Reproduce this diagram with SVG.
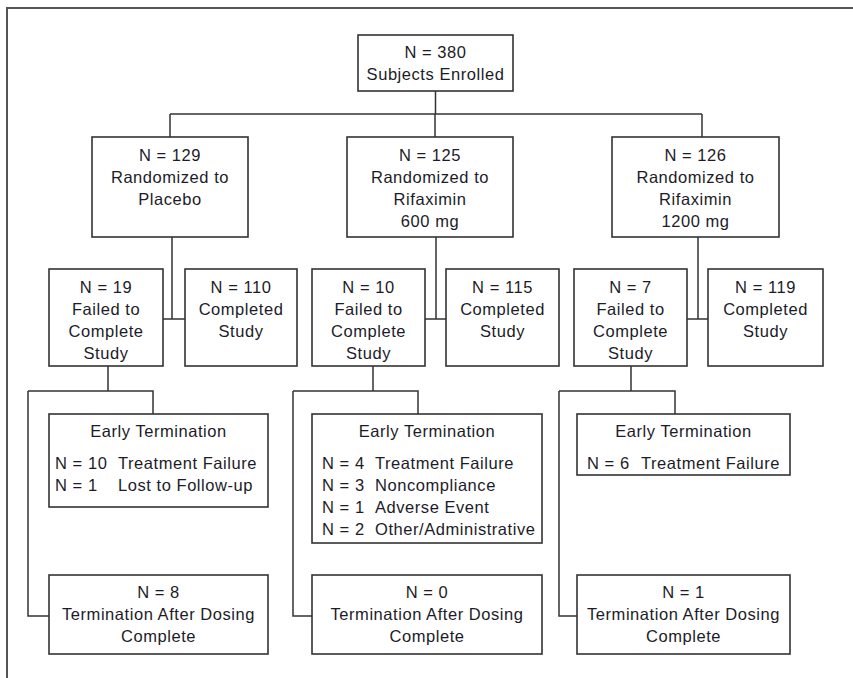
<svg xmlns="http://www.w3.org/2000/svg" width="853" height="678" viewBox="0 0 853 678">
<style>
.box{fill:#fff;stroke:#333;stroke-width:1.6}
.ln{fill:none;stroke:#333;stroke-width:1.5}
.fr{fill:none;stroke:#555;stroke-width:2}
text{font-family:"Liberation Sans",Arial,sans-serif;font-size:16.5px;letter-spacing:0.55px;fill:#1c1c28}
.c{text-anchor:middle}
</style>
<rect width="853" height="678" fill="#fff"/>
<g id="frame"><path class="fr" d="M7,678 V8 H853"/></g>
<g id="connectors">
<path class="ln" d="M435.5,91 V114 M170,114 H702 M170,114 V137 M435,114 V137 M702,114 V137"/>
<path class="ln" d="M172,237 V319 M163,319 H185"/>
<path class="ln" d="M436,237 V319 M425,319 H446"/>
<path class="ln" d="M698,237 V319 M687,319 H708"/>
<path class="ln" d="M108,366 V391 M28,391 H153 V414 M28,391 V616 H49"/>
<path class="ln" d="M373,366 V391 M293,391 H418 V414 M293,391 V616 H312"/>
<path class="ln" d="M631,366 V391 M559,391 H675 V414 M559,391 V616 H577"/>
</g>
<g id="enrolled"><rect class="box" x="358" y="35" width="155" height="56"/>
<text class="c" x="435.5" y="58">N = 380</text><text class="c" x="435.5" y="80">Subjects Enrolled</text></g>
<g id="placebo"><rect class="box" x="92" y="137" width="156" height="100"/>
<text class="c" x="170" y="161">N = 129</text><text class="c" x="170" y="183">Randomized to</text><text class="c" x="170" y="205">Placebo</text></g>
<g id="rif600"><rect class="box" x="347" y="137" width="166" height="100"/>
<text class="c" x="430" y="161">N = 125</text><text class="c" x="430" y="183">Randomized to</text><text class="c" x="430" y="205">Rifaximin</text><text class="c" x="430" y="227">600 mg</text></g>
<g id="rif1200"><rect class="box" x="612" y="137" width="167" height="100"/>
<text class="c" x="695.5" y="161">N = 126</text><text class="c" x="695.5" y="183">Randomized to</text><text class="c" x="695.5" y="205">Rifaximin</text><text class="c" x="695.5" y="227">1200 mg</text></g>
<g id="fail-placebo"><rect class="box" x="49" y="269" width="114" height="97"/>
<text class="c" x="106" y="293">N = 19</text><text class="c" x="106" y="315">Failed to</text><text class="c" x="106" y="337">Complete</text><text class="c" x="106" y="359">Study</text></g>
<g id="comp-placebo"><rect class="box" x="185" y="269" width="112" height="97"/>
<text class="c" x="241" y="293">N = 110</text><text class="c" x="241" y="315">Completed</text><text class="c" x="241" y="337">Study</text></g>
<g id="fail-600"><rect class="box" x="312" y="269" width="113" height="97"/>
<text class="c" x="368.5" y="293">N = 10</text><text class="c" x="368.5" y="315">Failed to</text><text class="c" x="368.5" y="337">Complete</text><text class="c" x="368.5" y="359">Study</text></g>
<g id="comp-600"><rect class="box" x="446" y="269" width="113" height="97"/>
<text class="c" x="502.5" y="293">N = 115</text><text class="c" x="502.5" y="315">Completed</text><text class="c" x="502.5" y="337">Study</text></g>
<g id="fail-1200"><rect class="box" x="574" y="269" width="113" height="97"/>
<text class="c" x="630.5" y="293">N = 7</text><text class="c" x="630.5" y="315">Failed to</text><text class="c" x="630.5" y="337">Complete</text><text class="c" x="630.5" y="359">Study</text></g>
<g id="comp-1200"><rect class="box" x="708" y="269" width="115" height="97"/>
<text class="c" x="765.5" y="293">N = 119</text><text class="c" x="765.5" y="315">Completed</text><text class="c" x="765.5" y="337">Study</text></g>
<g id="et-placebo"><rect class="box" x="49" y="414" width="219" height="93"/>
<text class="c" x="158.5" y="437">Early Termination</text>
<text x="55" y="469">N = 10</text><text x="118" y="469">Treatment Failure</text>
<text x="55" y="491">N = 1</text><text x="118" y="491">Lost to Follow-up</text></g>
<g id="et-600"><rect class="box" x="312" y="414" width="230" height="129"/>
<text class="c" x="427" y="437">Early Termination</text>
<text x="322" y="469">N = 4</text><text x="375" y="469">Treatment Failure</text>
<text x="322" y="491">N = 3</text><text x="375" y="491">Noncompliance</text>
<text x="322" y="513">N = 1</text><text x="375" y="513">Adverse Event</text>
<text x="322" y="535">N = 2</text><text x="375" y="535">Other/Administrative</text></g>
<g id="et-1200"><rect class="box" x="577" y="414" width="213" height="61"/>
<text class="c" x="683.5" y="437">Early Termination</text>
<text x="587" y="469">N = 6</text><text x="641" y="469">Treatment Failure</text></g>
<g id="tad-placebo"><rect class="box" x="49" y="575" width="219" height="79"/>
<text class="c" x="158.5" y="598">N = 8</text><text class="c" x="158.5" y="620">Termination After Dosing</text><text class="c" x="158.5" y="642">Complete</text></g>
<g id="tad-600"><rect class="box" x="312" y="575" width="230" height="79"/>
<text class="c" x="427" y="598">N = 0</text><text class="c" x="427" y="620">Termination After Dosing</text><text class="c" x="427" y="642">Complete</text></g>
<g id="tad-1200"><rect class="box" x="577" y="575" width="213" height="79"/>
<text class="c" x="683.5" y="598">N = 1</text><text class="c" x="683.5" y="620">Termination After Dosing</text><text class="c" x="683.5" y="642">Complete</text></g>
</svg>
